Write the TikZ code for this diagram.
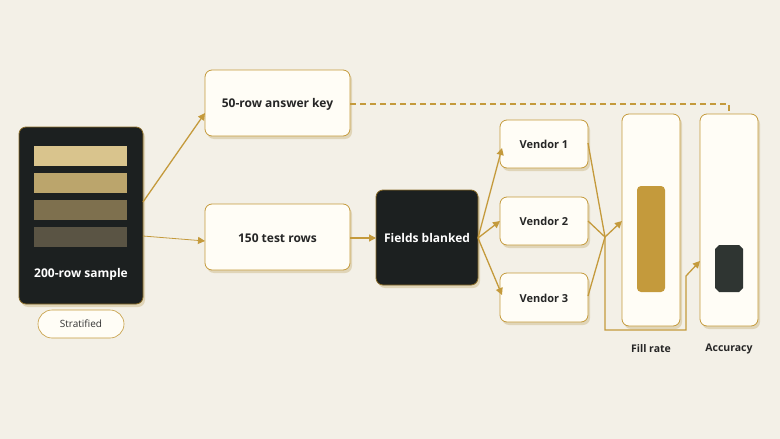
\documentclass[tikz,border=0pt]{standalone}
\usepackage{fontspec}
\setmainfont{Open Sans}
\usetikzlibrary{arrows.meta}
\definecolor{bg}{HTML}{F3F0E7}
\definecolor{gold}{HTML}{C49A3C}
\definecolor{cardf}{HTML}{FFFDF6}
\definecolor{dark}{HTML}{1C2020}
\definecolor{shad}{HTML}{E0D5B8}
\definecolor{b1}{HTML}{D9C48D}
\definecolor{b2}{HTML}{BBA56C}
\definecolor{b3}{HTML}{7E704E}
\definecolor{b4}{HTML}{5A5444}
\definecolor{accbar}{HTML}{2F3532}
\begin{document}
\begin{tikzpicture}[x=1pt,y=-1pt,
 card/.style={draw=gold,fill=cardf,rounded corners=7pt,line width=0.8pt},
 dcard/.style={draw=gold!70!black,fill=dark,rounded corners=7pt,line width=0.8pt},
 lbl/.style={font=\bfseries\fontsize{12}{14}\selectfont,text=black!85},
 vl/.style={font=\bfseries\fontsize{11}{13}\selectfont,text=black!85},
 sl/.style={font=\bfseries\fontsize{10.5}{12}\selectfont,text=black!85},
 arr/.style={draw=gold,line width=1.3pt,-{Triangle[length=7pt,width=7pt]}},
 ln/.style={draw=gold,line width=1.3pt}]
\useasboundingbox (0,0) rectangle (780,439);
\fill[bg] (0,0) rectangle (780,439);
% shadows
\foreach \a/\b/\c/\d in {19/127/143/304,205/70/350/136,205/204/350/270,376/190/478/285,500/120/588/168,500/197/588/245,500/273/588/322,622/114/680/326,700/114/758/326}
 \fill[shad,rounded corners=7pt] (\a+2,\b+3) rectangle (\c+2,\d+3);
% sample
\draw[dcard] (19,127) rectangle (143,304);
\fill[b1] (34,146) rectangle (127,166);
\fill[b2] (34,173) rectangle (127,193);
\fill[b3] (34,200) rectangle (127,220);
\fill[b4] (34,227) rectangle (127,247);
\node[lbl,text=white] (sample) at (81,274) {200-row sample};
\coordinate (s1) at (143,202);
\coordinate (s2) at (143,236);
\draw[draw=gold,fill=cardf,rounded corners=14pt,line width=0.6pt] (38,310) rectangle (124,338);
\node[font=\fontsize{10}{12}\selectfont,text=black!80] (strat) at (81,324) {Stratified};
% cards
\draw[card] (205,70) rectangle (350,136);
\node[lbl] (key) at (277.5,104) {50-row answer key};
\draw[card] (205,204) rectangle (350,270);
\node[lbl] (test) at (277.5,238) {150 test rows};
\draw[dcard] (376,190) rectangle (478,285);
\node[lbl,text=white] (blank) at (427,238) {Fields blanked};
\draw[card] (500,120) rectangle (588,168);
\node[vl] (v1) at (544,144) {Vendor 1};
\draw[card] (500,197) rectangle (588,245);
\node[vl] (v2) at (544,221) {Vendor 2};
\draw[card] (500,273) rectangle (588,322);
\node[vl] (v3) at (544,298) {Vendor 3};
\draw[card] (622,114) rectangle (680,326);
\fill[gold,rounded corners=4pt] (637,186) rectangle (665,292);
\draw[card] (700,114) rectangle (758,326);
\fill[accbar] (719,245) -- (739,245) -- (743,249) -- (743,288) -- (739,292) -- (719,292) -- (715,288) -- (715,249) -- cycle;
\node[sl] (fr) at (651,349) {Fill rate};
\node[sl] (acc) at (729,349) {Accuracy};
% connectors
\coordinate (keyin) at (205,113);
\coordinate (testin) at (205,241);
\draw[arr] (s1) -- (keyin);
\draw[arr,line width=0.8pt] (s2) -- (testin);
\draw[arr] (350,238) -- (376,238);
\coordinate (bo) at (478,238);
\draw[arr] (bo) -- (502,148);
\draw[arr] (bo) -- (500,221);
\draw[arr] (bo) -- (502,295);
\coordinate (m) at (605,237);
\draw[ln] (588,143) -- (m);
\draw[ln] (588,221) -- (m);
\draw[ln] (588,296) -- (m);
\draw[arr] (m) -- (622,221);
\draw[arr] (m) -- (605,330) -- (686,330) -- (686,276) -- (700,261);
\draw[ln,dashed,dash pattern=on 6pt off 4pt] (350,104) -- (729,104) -- (729,114);
\end{tikzpicture}
\end{document}
